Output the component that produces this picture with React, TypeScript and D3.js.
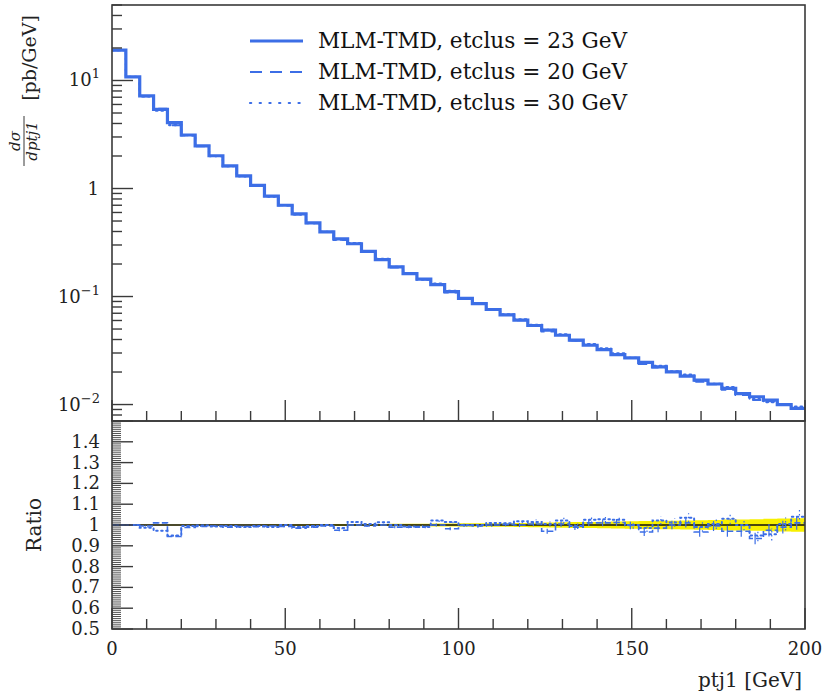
import React from "react";
import * as d3 from "d3";

// ---------- data ----------
const binEdges = [0, 4, 8, 12, 16, 20, 24, 28, 32, 36, 40, 44, 48, 52, 56, 60, 64, 68, 72, 76, 80, 84, 88, 92, 96, 100, 104, 108, 112, 116, 120, 124, 128, 132, 136, 140, 144, 148, 152, 156, 160, 164, 168, 172, 176, 180, 184, 188, 192, 196, 200];

// MLM-TMD, etclus = 23 GeV (reference), dσ/dptj1 [pb/GeV]
const ref23 = [19.1, 10.8, 7.2, 5.41, 4.07, 3.13, 2.48, 2.01, 1.62, 1.31, 1.07, 0.85, 0.70, 0.583, 0.481, 0.397, 0.342, 0.308, 0.262, 0.220, 0.188, 0.163, 0.145, 0.129, 0.111, 0.096, 0.086, 0.0758, 0.0677, 0.0604, 0.0539, 0.0488, 0.0438, 0.0394, 0.0354, 0.0323, 0.029, 0.027, 0.0246, 0.0223, 0.0201, 0.0183, 0.0168, 0.0155, 0.0141, 0.0126, 0.0118, 0.011, 0.0100, 0.0092];

// ratios to the reference
const ratio20 = [1.0, 1.0, 0.995, 1.01, 0.945, 0.988, 0.993, 0.995, 0.99, 0.993, 0.992, 0.995, 0.993, 0.985, 0.99, 0.995, 0.975, 1.0, 0.995, 1.0, 0.99, 0.99, 0.993, 1.0, 0.982, 0.998, 0.995, 1.0, 1.003, 1.0, 1.005, 0.97, 1.005, 0.99, 1.01, 1.01, 1.012, 0.998, 0.966, 0.985, 1.0, 1.01, 0.966, 0.995, 0.97, 0.97, 0.935, 0.975, 0.99, 1.01];
const ratio30 = [1.0, 1.0, 0.987, 0.972, 0.95, 0.995, 0.998, 0.993, 0.995, 0.99, 0.995, 0.99, 1.0, 0.99, 0.995, 1.0, 0.985, 1.015, 1.005, 1.013, 1.0, 0.993, 0.99, 1.022, 1.015, 1.0, 1.0, 1.01, 1.008, 1.018, 1.015, 1.005, 1.022, 0.995, 1.025, 1.028, 1.025, 1.0, 0.985, 1.022, 1.012, 1.035, 0.99, 1.005, 1.03, 1.0, 0.95, 0.955, 1.005, 1.04];
// relative stat. uncertainty of the reference (yellow band)
const refErr = [0.002, 0.002, 0.002, 0.002, 0.002, 0.003, 0.003, 0.003, 0.003, 0.003, 0.003, 0.004, 0.004, 0.004, 0.004, 0.004, 0.005, 0.005, 0.005, 0.005, 0.006, 0.006, 0.006, 0.007, 0.007, 0.008, 0.008, 0.009, 0.009, 0.010, 0.011, 0.012, 0.013, 0.014, 0.015, 0.016, 0.017, 0.018, 0.019, 0.020, 0.021, 0.022, 0.023, 0.024, 0.026, 0.027, 0.028, 0.030, 0.031, 0.033];

const legendLabels = ["MLM-TMD, etclus = 23 GeV", "MLM-TMD, etclus = 20 GeV", "MLM-TMD, etclus = 30 GeV"];
const xMajorTicks = [0, 50, 100, 150, 200];
const ratioTickLabels = [0.5, 0.6, 0.7, 0.8, 0.9, 1, 1.1, 1.2, 1.3, 1.4];
const logMajor = [{ v: 10, base: "10", exp: "1" }, { v: 1, base: "1", exp: "" }, { v: 0.1, base: "10", exp: "\u22121" }, { v: 0.01, base: "10", exp: "\u22122" }];

// ---------- layout ----------
const W = 823, H = 695;
const L = 112, R = 805, T = 5, MID = 421, B = 629;
const BLUE = "#3c6ee6";
const AX = "#3a3a3a";
const FONT = "'DejaVu Serif', serif";

export default function App() {
  const x = d3.scaleLinear().domain([0, 200]).range([L, R]);
  const y = d3.scaleLog().domain([0.00704, 50]).range([MID, T]);
  const yr = d3.scaleLinear().domain([0.5, 1.5]).range([B, MID]);

  const v20 = ref23.map((v, i) => v * ratio20[i]);
  const v30 = ref23.map((v, i) => v * ratio30[i]);

  const stepPts = (vals: number[]) => {
    const pts = vals.map((v, i) => [binEdges[i], v] as [number, number]);
    pts.push([binEdges[binEdges.length - 1], vals[vals.length - 1]]);
    return pts;
  };
  const upperLine = d3.line<[number, number]>().x(d => x(d[0])).y(d => y(d[1])).curve(d3.curveStepAfter);
  const ratioLine = d3.line<[number, number]>().x(d => x(d[0])).y(d => yr(d[1])).curve(d3.curveStepAfter);
  const band = d3.area<[number, number]>().x(d => x(d[0])).y0(d => yr(1 - d[1])).y1(d => yr(1 + d[1])).curve(d3.curveStepAfter);

  // ticks
  const xMinor = d3.range(0, 201, 10).filter(v => v % 50 !== 0);
  const logMinor: number[] = [];
  [0.001, 0.01, 0.1, 1, 10].forEach(dec => {
    for (let k = 2; k <= 9; k++) {
      const v = dec * k;
      if (v >= 0.00704 && v <= 50) logMinor.push(v);
    }
  });
  const ratioMinor = d3.range(50, 151).map(v => v / 100).filter(v => Math.round(v * 100) % 10 !== 0);
  const ratioMajor = d3.range(5, 16).map(v => v / 10);

  const legendY = [41, 72, 103];
  const styles = [
    { w: 3.2, dash: "" },
    { w: 2, dash: "12,8" },
    { w: 2.2, dash: "1.2,8.5" },
  ];

  return (
    <svg width={W} height={H} style={{ position: "absolute", left: 0, top: 0, background: "#fff" }} fontFamily={FONT}>
      <defs>
        <clipPath id="cu"><rect x={L} y={T} width={R - L} height={MID - T} /></clipPath>
        <clipPath id="cr"><rect x={L} y={MID} width={R - L} height={B - MID} /></clipPath>
      </defs>
      <rect x={0} y={0} width={W} height={H} fill="#fff" />

      {/* upper panel series */}
      <g clipPath="url(#cu)" fill="none" stroke={BLUE} strokeLinejoin="miter">
        <path d={upperLine(stepPts(v30)) || ""} strokeWidth={2.2} strokeDasharray="1.5,4" strokeLinecap="round" />
        <path d={upperLine(stepPts(v20)) || ""} strokeWidth={2} strokeDasharray="9,6" />
        <path d={upperLine(stepPts(ref23)) || ""} strokeWidth={styles[0].w} />
      </g>

      {/* ratio panel */}
      <g clipPath="url(#cr)">
        <path d={band(stepPts(refErr)) || ""} fill="#f7f000" stroke="none" />
        <line x1={L} x2={R} y1={yr(1)} y2={yr(1)} stroke="#111" strokeWidth={1.5} />
        {ratio20.map((r, i) => (
          <line key={"e20" + i} x1={x(binEdges[i] + 1.6)} x2={x(binEdges[i] + 1.6)} y1={yr(r - refErr[i])} y2={yr(r + refErr[i])} stroke={BLUE} strokeWidth={1.2} />
        ))}
        {ratio30.map((r, i) => (
          <line key={"e30" + i} x1={x(binEdges[i] + 2.4)} x2={x(binEdges[i] + 2.4)} y1={yr(r - refErr[i])} y2={yr(r + refErr[i])} stroke={BLUE} strokeWidth={1.2} strokeDasharray="1.5,2.5" />
        ))}
        <path d={ratioLine(stepPts(ratio20)) || ""} fill="none" stroke={BLUE} strokeWidth={1.6} strokeDasharray="6,3" />
        <path d={ratioLine(stepPts(ratio30)) || ""} fill="none" stroke={BLUE} strokeWidth={2} strokeDasharray="1.5,3.5" strokeLinecap="round" />
      </g>

      {/* frames */}
      <rect x={L} y={T} width={R - L} height={MID - T} fill="none" stroke={AX} strokeWidth={1.6} />
      <rect x={L} y={MID} width={R - L} height={B - MID} fill="none" stroke={AX} strokeWidth={1.6} />

      {/* x ticks on both panels */}
      <g stroke={AX} strokeWidth={1.4}>
        {xMajorTicks.map(v => (
          <React.Fragment key={"xm" + v}>
            <line x1={x(v)} x2={x(v)} y1={MID} y2={MID - 21} />
            <line x1={x(v)} x2={x(v)} y1={B} y2={B - 21} />
          </React.Fragment>
        ))}
        {xMinor.map(v => (
          <React.Fragment key={"xn" + v}>
            <line x1={x(v)} x2={x(v)} y1={MID} y2={MID - 10} />
            <line x1={x(v)} x2={x(v)} y1={B} y2={B - 10} />
          </React.Fragment>
        ))}
        {logMajor.map(t => (
          <line key={"ym" + t.v} x1={L} x2={L + 21} y1={y(t.v)} y2={y(t.v)} />
        ))}
        {logMinor.map(v => (
          <line key={"yn" + v} x1={L} x2={L + 10} y1={y(v)} y2={y(v)} />
        ))}
        {ratioMajor.map(v => (
          <line key={"rm" + v} x1={L} x2={L + 21} y1={yr(v)} y2={yr(v)} />
        ))}
      </g>
      <g stroke={AX} strokeWidth={0.9}>
        {ratioMinor.map(v => (
          <line key={"rn" + v} x1={L} x2={L + 9} y1={yr(v)} y2={yr(v)} />
        ))}
      </g>

      {/* tick labels */}
      <g fill="#222" fontSize={18}>
        {logMajor.map(t => (
          <text key={"yl" + t.v} x={t.exp ? 100 : 99} y={y(t.v) + 6} textAnchor="end">
            {t.base}
            {t.exp && <tspan dy={-8} fontSize={13}>{t.exp}</tspan>}
          </text>
        ))}
        {ratioTickLabels.map(v => (
          <text key={"rl" + v} x={100} y={yr(v) + 6} textAnchor="end">{String(v)}</text>
        ))}
        {xMajorTicks.map(v => (
          <text key={"xl" + v} x={x(v)} y={655} textAnchor="middle">{String(v)}</text>
        ))}
      </g>

      {/* axis titles */}
      <text x={802} y={687} textAnchor="end" fontSize={20} fill="#222">ptj1 [GeV]</text>
      <text transform={`translate(41,${yr(1)}) rotate(-90)`} textAnchor="middle" fontSize={20} fill="#222">Ratio</text>
      <text transform="translate(36,58) rotate(-90)" textAnchor="middle" fontSize={19} fill="#222">[pb/GeV]</text>
      <text transform="translate(20,141) rotate(-90)" textAnchor="middle" fontSize={15} fontStyle="italic" fill="#222">dσ</text>
      <line x1={24} x2={24} y1={116} y2={166} stroke="#222" strokeWidth={0.9} />
      <text transform="translate(37,141) rotate(-90)" textAnchor="middle" fontSize={15} fontStyle="italic" fill="#222">dptj1</text>

      {/* legend */}
      {legendLabels.map((lab, i) => (
        <g key={lab}>
          <line x1={250} x2={303} y1={legendY[i]} y2={legendY[i]} stroke={BLUE} strokeWidth={styles[i].w} strokeDasharray={styles[i].dash} strokeLinecap={i === 2 ? "round" : "butt"} />
          <text x={318} y={legendY[i] + 7} fontSize={21.6} fill="#111">{lab}</text>
        </g>
      ))}
    </svg>
  );
}
